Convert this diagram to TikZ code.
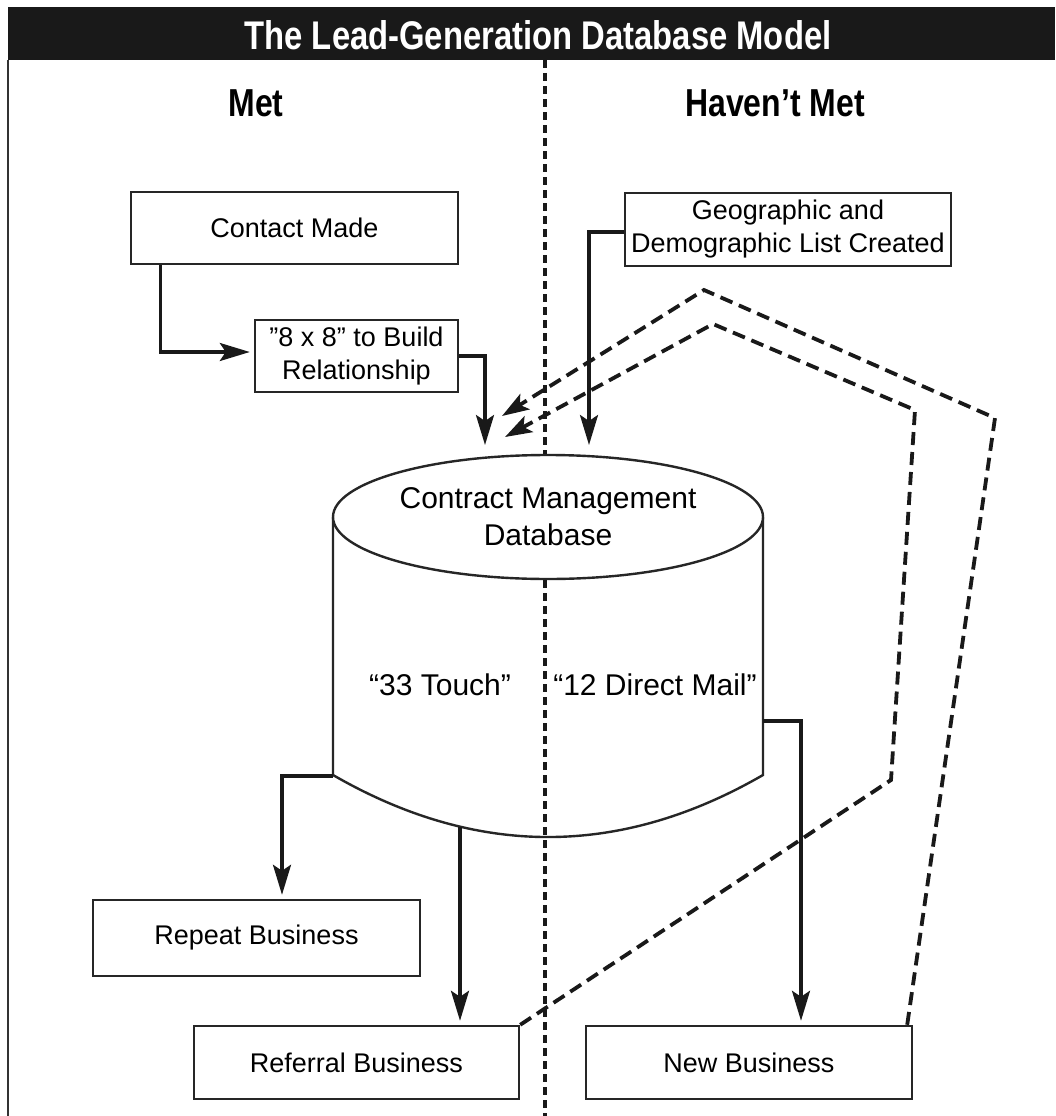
\documentclass[tikz,border=0pt]{standalone}
\usepackage{fontspec}
\setmainfont{Liberation Sans}
\newfontfamily\condbold{Liberation Sans}[FakeStretch=0.82]
\usetikzlibrary{arrows.meta}

\tikzset{
  box/.style={draw=black!85, line width=2.4pt, fill=white, inner sep=0pt,
    align=center, font=\fontsize{27}{33}\selectfont},
  dbtext/.style={inner sep=0pt, align=center, font=\fontsize{30}{37}\selectfont},
  headtext/.style={inner sep=0pt, font=\condbold\bfseries\fontsize{39}{44}\selectfont},
  titletext/.style={inner sep=0pt, text=white, font=\condbold\bfseries\fontsize{40}{44}\selectfont},
  flow/.style={line width=3.3pt, black!90,
    -{Stealth[length=30pt,width=18pt,inset=6pt]}, shorten >=4pt},
  flowfree/.style={line width=3.3pt, black!90,
    -{Stealth[length=30pt,width=18pt,inset=6pt]}},
  loop/.style={line width=3.8pt, black!90, dash pattern=on 13pt off 7pt,
    -{Stealth[length=27pt,width=18pt,inset=6pt]}},
  divider/.style={line width=3.2pt, black!90, dash pattern=on 8pt off 5pt},
  dbline/.style={line width=2.4pt, black!85},
}

\begin{document}
\begin{tikzpicture}[x=1pt, y=-1pt]
\useasboundingbox (0,0) rectangle (1055,1116);

% frame and title bar
\fill[white] (0,0) rectangle (1055,1116);
\draw[line width=2.4pt, black!80] (8,60) -- (8,1116);
\fill[black!90] (8,7) rectangle (1055,60);
\node[titletext] (title) at (538,35) {The Lead-Generation Database Model};

% divider between the two halves
\draw[divider] (545,60) -- (545,1116);

% column headings
\node[headtext] (met) at (256,103) {Met};
\node[headtext] (havent) at (775,103) {Haven’t Met};

% database cylinder
\coordinate (dbL) at (333,776);
\coordinate (dbR) at (763,721);
\coordinate (dbB) at (460,826.6);
\draw[dbline] (333,517) -- (333,775)
  .. controls (476.3,857.7) and (619.7,857.7) .. (763,775) -- (763,517);
\draw[dbline, fill=white] (548,517) ellipse [x radius=215, y radius=62];
\node[dbtext] (dbtitle) at (548,516.5) {Contract Management\\Database};
\node[dbtext] (touch) at (440,685) {“33 Touch”};
\node[dbtext] (mail) at (655,685) {“12 Direct Mail”};

% boxes
\node[box, minimum width=327pt, minimum height=72pt] (contact) at (294.5,228) {Contact Made};
\node[box, minimum width=203pt, minimum height=72pt] (rel) at (356.5,356) {”8 x 8” to Build\\Relationship};
\node[box, minimum width=326pt, minimum height=73pt] (geo) at (788,229.5) {Geographic and\\Demographic List Created};
\node[box, minimum width=327pt, minimum height=76pt] (repeat) at (256.5,938) {Repeat Business};
\node[box, minimum width=325pt, minimum height=73pt] (referral) at (356.5,1062.5) {Referral Business};
\node[box, minimum width=326pt, minimum height=73pt] (newb) at (749,1062.5) {New Business};

% arrow ends above the database
\coordinate (tipA) at (485,445);
\coordinate (tipB) at (589,445);
\coordinate (tipU) at (502,416);
\coordinate (tipL) at (505,437);

% solid flow
\draw[flow] ([xshift=31pt]contact.south west) |- ([yshift=4pt]rel.west);
\draw[flowfree] (rel.east) -| (tipA);
\draw[flowfree] ([yshift=-2.5pt]geo.west) -| (tipB);
\draw[flow] (dbL) -| ([xshift=25.5pt]repeat.north);
\draw[flow] (dbB) -- (dbB |- referral.north);
\draw[flow] (dbR) -| ([xshift=52pt]newb.north);

% dashed feedback loops
\coordinate (u1) at (995,418);
\coordinate (u2) at (704,290);
\coordinate (l1) at (891,780);
\coordinate (l2) at (915,410);
\coordinate (l3) at (713,324);
\draw[loop] ([xshift=-6pt]newb.north east) -- (u1) -- (u2) -- (tipU);
\draw[loop] (referral.north east) -- (l1) -- (l2) -- (l3) -- (tipL);
\end{tikzpicture}
\end{document}
